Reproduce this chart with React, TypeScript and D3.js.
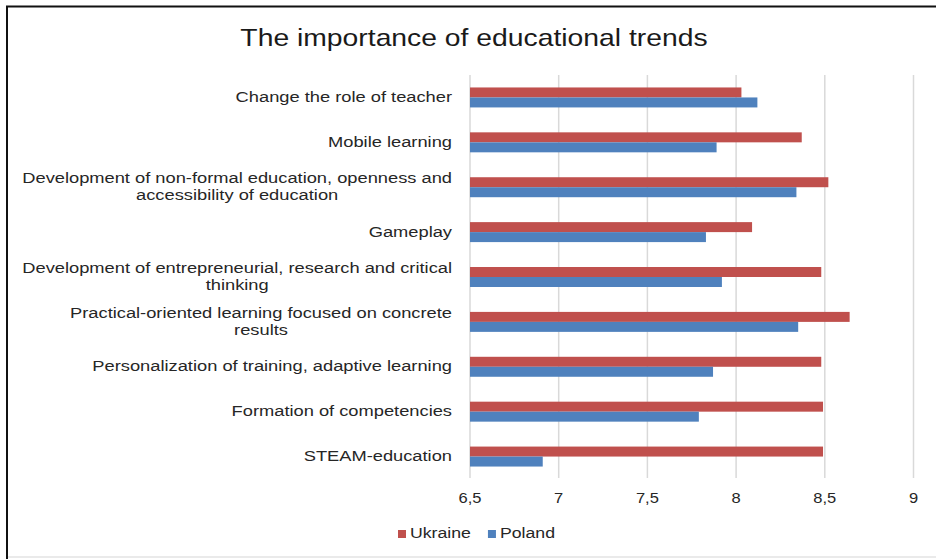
import * as d3 from "d3";
import React, { useRef, useEffect } from "react";

// categories, top to bottom (\n = wrapped label line)
const categories = [
  "Change the role of teacher",
  "Mobile learning",
  "Development of non-formal education, openness and\naccessibility of education",
  "Gameplay",
  "Development of entrepreneurial, research and critical\nthinking",
  "Practical-oriented learning focused on concrete\nresults",
  "Personalization of training, adaptive learning",
  "Formation of competencies",
  "STEAM-education",
];
const seriesNames = ["Ukraine", "Poland"];
const ukraine = [8.03, 8.37, 8.52, 8.09, 8.48, 8.64, 8.48, 8.49, 8.49];
const poland = [8.12, 7.89, 8.34, 7.83, 7.92, 8.35, 7.87, 7.79, 6.91];
const xTicks = [6.5, 7, 7.5, 8, 8.5, 9];
const title = "The importance of educational trends";

const W = 936;
const H = 559;
const m = { top: 75, right: 22, bottom: 80, left: 470 };
const SX = 1.18; // source image is stretched horizontally
const FONT = "'Liberation Sans', Arial, sans-serif";
const colors: Record<string, string> = { Ukraine: "#C0504D", Poland: "#4F81BD" };
const gridColor = "#D9D9D9";
const textColor = "#262626";

export default function App() {
  const ref = useRef<SVGSVGElement>(null);

  useEffect(() => {
    const svg = d3.select(ref.current);
    svg.selectAll("*").remove();

    const x = d3.scaleLinear().domain([6.5, 9]).range([m.left, 913.5]);
    const y = d3
      .scaleBand<string>()
      .domain(categories)
      .range([m.top, 479])
      .paddingInner(0.555)
      .paddingOuter(0.2775);
    const ySub = d3.scaleBand<string>().domain(seriesNames).range([0, y.bandwidth()]);

    svg.append("rect").attr("width", W).attr("height", H).attr("fill", "#fff");

    // frame
    svg.append("line").attr("x1", 6).attr("x2", W).attr("y1", 6.5).attr("y2", 6.5)
      .attr("stroke", "#111").attr("stroke-width", 2);
    svg.append("line").attr("x1", 7).attr("x2", 7).attr("y1", 6).attr("y2", H)
      .attr("stroke", "#111").attr("stroke-width", 2);
    svg.append("line").attr("x1", 8).attr("x2", W).attr("y1", 557).attr("y2", 557)
      .attr("stroke", "#e3e3e3").attr("stroke-width", 1.5);

    // title
    svg.append("text")
      .attr("transform", `translate(474,45.5) scale(${SX},1)`)
      .attr("text-anchor", "middle")
      .attr("font-family", FONT).attr("font-size", 24).attr("fill", "#1a1a1a")
      .text(title);

    // grid
    svg.append("g").selectAll("line").data(xTicks).join("line")
      .attr("x1", (d) => x(d)).attr("x2", (d) => x(d))
      .attr("y1", m.top).attr("y2", 478)
      .attr("stroke", gridColor).attr("stroke-width", 1.5);

    // tick labels
    svg.append("g").selectAll("text").data(xTicks).join("text")
      .attr("transform", (d) => `translate(${x(d)},503) scale(${SX},1)`)
      .attr("text-anchor", "middle")
      .attr("font-family", FONT).attr("font-size", 14).attr("fill", textColor)
      .text((d) => String(d).replace(".", ","));

    // bars
    const rows = categories.map((c, i) => ({ c, Ukraine: ukraine[i], Poland: poland[i] }));
    const g = svg.append("g");
    rows.forEach((r) => {
      seriesNames.forEach((s) => {
        g.append("rect")
          .attr("x", x(6.5))
          .attr("y", y(r.c)! + ySub(s)!)
          .attr("width", x((r as any)[s]) - x(6.5))
          .attr("height", ySub.bandwidth())
          .attr("fill", colors[s]);
      });
    });

    // category labels
    const lh = 16.7;
    categories.forEach((c) => {
      const lines = c.split("\n");
      const cy = y(c)! + y.bandwidth() / 2;
      const base = cy + 4.5 - ((lines.length - 1) * lh) / 2;
      const lg = svg.append("g").attr("transform", `translate(452,0) scale(${SX},1)`);
      const t = lg.append("text")
        .attr("font-family", FONT).attr("font-size", 15.5).attr("fill", textColor);
      const spans = lines.map((ln, k) =>
        t.append("tspan").attr("y", base + k * lh).text(ln)
      );
      if (lines.length === 1) {
        t.attr("text-anchor", "end");
        spans[0].attr("x", 0);
      } else {
        const wMax = d3.max(spans, (sp) => (sp.node() as SVGTSpanElement).getComputedTextLength()) ?? 0;
        t.attr("text-anchor", "middle");
        spans.forEach((sp) => sp.attr("x", -wMax / 2));
      }
    });

    // legend
    let lx = 398;
    seriesNames.forEach((s) => {
      svg.append("rect").attr("x", lx).attr("y", 530).attr("width", 8).attr("height", 8)
        .attr("fill", colors[s]);
      const tt = svg.append("text")
        .attr("transform", `translate(${lx + 12},538) scale(${SX},1)`)
        .attr("font-family", FONT).attr("font-size", 15).attr("fill", textColor)
        .text(s);
      const tw = (tt.node() as SVGTextElement).getComputedTextLength() * SX;
      lx += 12 + tw + 17;
    });
  }, []);

  return (
    <div style={{ position: "fixed", left: 0, top: 0 }}>
      <svg ref={ref} width={W} height={H} style={{ display: "block" }} />
    </div>
  );
}
